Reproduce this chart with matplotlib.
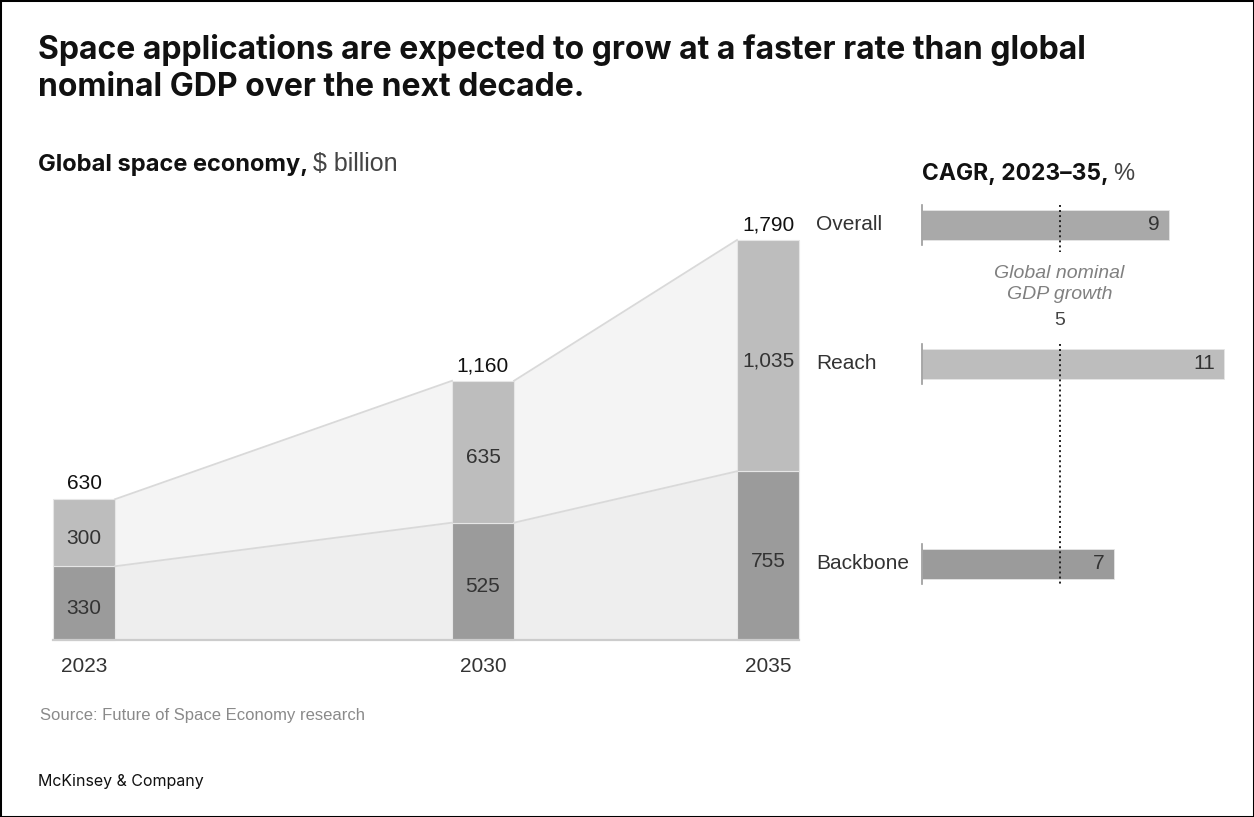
import matplotlib
matplotlib.use("Agg")
import matplotlib.pyplot as plt
from matplotlib.patches import Rectangle

# --- data ---
years = [2023, 2030, 2035]
backbone = [330, 525, 755]
reach = [300, 635, 1035]
totals = [630, 1160, 1790]

cagr_labels = ["Overall", "Reach", "Backbone"]
cagr_values = [9, 11, 7]
gdp_growth = 5

# --- styling ---
W, H = 1254, 817
BODY = ["Liberation Sans", "DejaVu Sans"]
HEAD = ["Inter", "Liberation Sans", "DejaVu Sans"]
C_BACKBONE = "#9b9b9b"
C_REACH = "#bdbdbd"
C_OVERALL = "#a9a9a9"
C_RIB_LOW = "#eeeeee"
C_RIB_HIGH = "#f4f4f4"
C_RIB_LINE = "#d9d9d9"
C_TEXT = "#333333"

plt.rcParams["font.family"] = BODY


def px_rect(x0, y0, x1, y1):
    """Axes rectangle from pixel box (top-left origin)."""
    return [x0 / W, 1 - y1 / H, (x1 - x0) / W, (y1 - y0) / H]


def bold_then_plain(x, y, bold, plain, size_b, size_p, gap=5):
    """Bold heading followed by a regular unit suffix on the same baseline."""
    t = fig.text(x / W, 1 - y / H, bold, family=HEAD, fontsize=size_b,
                 fontweight="bold", color="#111111", va="baseline")
    bb = t.get_window_extent(renderer=fig.canvas.get_renderer())
    fig.text((bb.x1 + gap) / W, 1 - y / H, plain, fontsize=size_p,
             color="#444444", va="baseline")


fig = plt.figure(figsize=(W / 100, H / 100), dpi=100)
fig.patch.set_facecolor("white")
fig.patches.append(Rectangle((0, 0), 1, 1, transform=fig.transFigure,
                             fill=False, edgecolor="black", linewidth=2.2))

# headline + section titles
fig.text(38 / W, 1 - 96 / H, "Space applications are expected to grow at a faster rate than global\n"
         "nominal GDP over the next decade.", family=HEAD, fontsize=23, fontweight="bold",
         color="#111111", va="baseline", linespacing=1.27)
bold_then_plain(38, 171, "Global space economy,", "$ billion", 17, 18)
bold_then_plain(922, 180, "CAGR, 2023\u201335,", "%", 16.5, 17)

# --- left: stacked bars joined by ribbons ---
ax = fig.add_axes(px_rect(40, 200, 810, 650))
px_per_year = 57.0
px_per_unit = 400 / 1790
ax.set_xlim(2023 - 44 / px_per_year, 2023 + 726 / px_per_year)
ax.set_ylim(-10 / px_per_unit, 440 / px_per_unit)
ax.axis("off")

bw = 62 / px_per_year
for i in range(len(years) - 1):
    xs = [years[i] + bw / 2, years[i + 1] - bw / 2]
    ax.fill_between(xs, [0, 0], backbone[i:i + 2], color=C_RIB_LOW, lw=0)
    ax.fill_between(xs, backbone[i:i + 2], totals[i:i + 2], color=C_RIB_HIGH, lw=0)
    ax.plot(xs, backbone[i:i + 2], color=C_RIB_LINE, lw=1.3)
    ax.plot(xs, totals[i:i + 2], color=C_RIB_LINE, lw=1.3)

ax.bar(years, backbone, width=bw, color=C_BACKBONE, edgecolor="#e6e6e6", lw=0.8)
ax.bar(years, reach, width=bw, bottom=backbone, color=C_REACH, edgecolor="#e6e6e6", lw=0.8)
ax.plot([years[0] - bw / 2, years[-1] + bw / 2], [0, 0], color="#cccccc", lw=1.6)

for x, b, r, t in zip(years, backbone, reach, totals):
    ax.annotate(f"{t:,}", (x, t), xytext=(0, 11), textcoords="offset points",
                ha="center", va="center", fontsize=15, color="#111111")
    ax.annotate(f"{b:,}", (x, b / 2), xytext=(0, -4), textcoords="offset points",
                ha="center", va="center", fontsize=15, color=C_TEXT)
    ax.annotate(f"{r:,}", (x, b + r / 2), xytext=(0, -4), textcoords="offset points",
                ha="center", va="center", fontsize=15, color=C_TEXT)
    ax.annotate(str(x), (x, 0), xytext=(0, -12), textcoords="offset points",
                ha="center", va="top", fontsize=15, color=C_TEXT)

# --- right: CAGR bars, aligned with the 2035 stack ---
rax = fig.add_axes(px_rect(910, 200, 1240, 650), sharey=ax)
px_per_pct = 27.5
rax.set_xlim(-12 / px_per_pct, 318 / px_per_pct)
rax.axis("off")

off = 8 / px_per_unit
cagr_y = [totals[-1] + 68, backbone[-1] + reach[-1] / 2 - off, backbone[-1] / 2 - off]
cagr_colors = [C_OVERALL, C_REACH, C_BACKBONE]
bh = 30 / px_per_unit
pad = 5 / px_per_unit

rax.barh(cagr_y, cagr_values, height=bh, color=cagr_colors, edgecolor="#e6e6e6", lw=0.6)
for y, v, lab in zip(cagr_y, cagr_values, cagr_labels):
    rax.plot([0, 0], [y - bh / 2 - pad, y + bh / 2 + pad], color="#9a9a9a", lw=1.2)
    rax.annotate(str(v), (v, y), xytext=(-7, 0), textcoords="offset points",
                 ha="right", va="center", fontsize=15, color=C_TEXT)
    rax.annotate(lab, (0, y), xytext=(-76, 0), textcoords="offset points",
                 ha="left", va="center", fontsize=15, color=C_TEXT)

# dotted GDP reference line, broken around its label
y_ov, y_re, y_bb = cagr_y
rax.plot([gdp_growth] * 2, [y_ov + bh / 2 + pad, y_ov - bh / 2 - 12 / px_per_unit],
         color="#222222", lw=1.4, ls=(0, (1, 1.6)))
rax.plot([gdp_growth] * 2, [y_re + bh / 2 + pad, y_bb - bh / 2 - pad],
         color="#222222", lw=1.4, ls=(0, (1, 1.6)))
y_lab = (y_ov + y_re) / 2
rax.text(gdp_growth, y_lab + 10 / px_per_unit, "Global nominal\nGDP growth", ha="center",
         va="center", fontsize=14, style="italic", color="#808080", linespacing=1.35)
rax.text(gdp_growth, y_lab - 26 / px_per_unit, str(gdp_growth), ha="center", va="center",
         fontsize=14, color="#444444")

# footer
fig.text(40 / W, 1 - 720 / H, "Source: Future of Space Economy research", fontsize=12,
         color="#8a8a8a", va="baseline")
fig.text(38 / W, 1 - 786 / H, "McKinsey & Company", family=HEAD, fontsize=11.5,
         color="#111111", va="baseline")

fig.savefig("out.png", dpi=100)
